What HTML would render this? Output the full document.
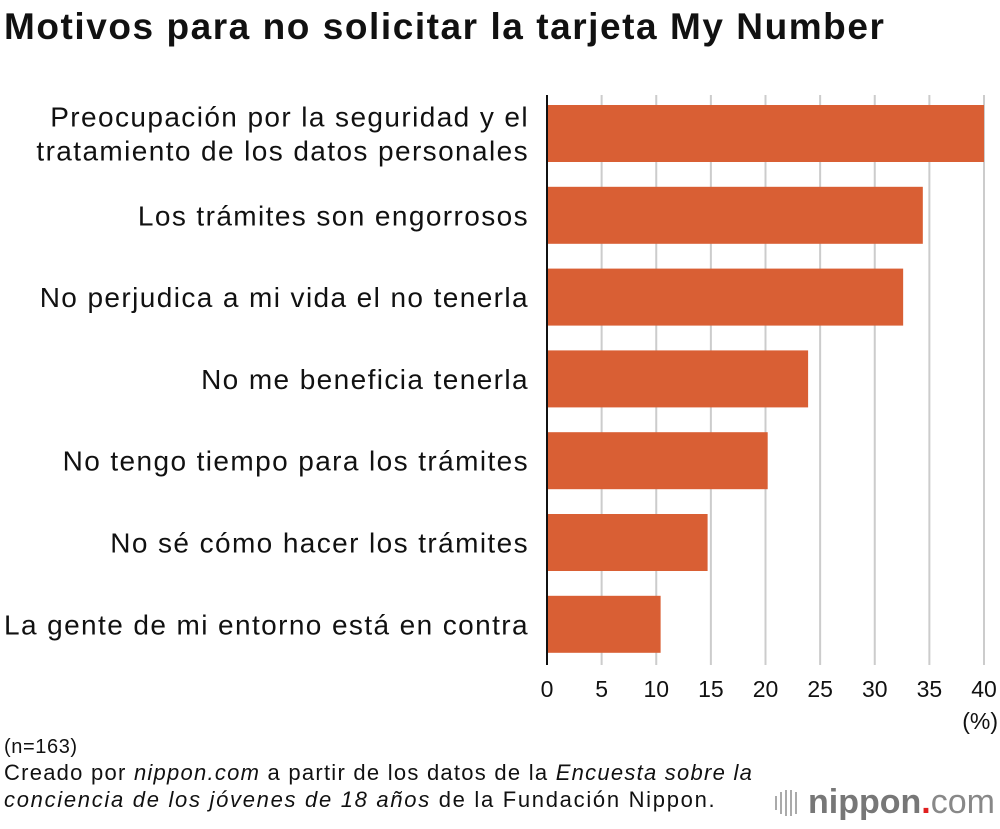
<!DOCTYPE html>
<html><head><meta charset="utf-8"><style>
body{margin:0;background:#fff;width:1000px;height:824px;overflow:hidden;font-family:"Liberation Sans",sans-serif;}
</style></head><body>
<svg width="1000" height="824" id="svg" font-family="Liberation Sans, sans-serif">
<text x="4" y="39" font-size="37" letter-spacing="1.55" font-weight="bold" fill="#111">Motivos para no solicitar la tarjeta My Number</text>
<g id="grid"></g><g id="bars"></g><g id="labels"></g><g id="ticks"></g>
<line x1="547" y1="95" x2="547" y2="665" stroke="#111" stroke-width="2"/>
<text x="998" y="729" font-size="23" text-anchor="end" fill="#111">(%)</text>
<text x="4" y="753" font-size="20" letter-spacing="0.6" fill="#111">(n=163)</text>
<text x="4" y="780" font-size="22" letter-spacing="1.25" fill="#111">Creado por <tspan font-style="italic">nippon.com</tspan> a partir de los datos de la <tspan font-style="italic">Encuesta sobre la</tspan></text>
<text x="4" y="807" font-size="22" letter-spacing="1.7" fill="#111"><tspan font-style="italic">conciencia de los jóvenes de 18 años</tspan> de la Fundación Nippon.</text>
<g>
<g stroke="#aaa" stroke-width="2"><line x1="776" y1="796" x2="776" y2="810"/><line x1="781" y1="792" x2="781" y2="814"/><line x1="786" y1="790" x2="786" y2="816"/><line x1="791" y1="790" x2="791" y2="816"/><line x1="796" y1="792" x2="796" y2="814"/></g>
<text x="808" y="813" font-size="34" fill="#777" font-weight="bold">nippon<tspan fill="#e02020">.</tspan><tspan font-weight="normal" fill="#888">com</tspan></text>
</g>
</svg>
<script>
const categories=[["Preocupación por la seguridad y el","tratamiento de los datos personales"],["Los trámites son engorrosos"],["No perjudica a mi vida el no tenerla"],["No me beneficia tenerla"],["No tengo tiempo para los trámites"],["No sé cómo hacer los trámites"],["La gente de mi entorno está en contra"]];
const values=[40.0,34.4,32.6,23.9,20.2,14.7,10.4];
const tickValues=[0,5,10,15,20,25,30,35,40];
const NS="http://www.w3.org/2000/svg";
const x0=547,x1=984,xmax=40;
function xs(v){return x0+(x1-x0)*v/xmax;}
const rowTop=96,rowStep=81.8,barH=57,barOff=9;
function yb(i){return rowTop+i*rowStep+barOff;}
function mk(t,a,p){const e=document.createElementNS(NS,t);for(const k in a)e.setAttribute(k,a[k]);document.getElementById(p).appendChild(e);return e;}
tickValues.forEach(v=>{
 if(v>0){const g=mk('line',{x1:xs(v),x2:xs(v),y1:95,y2:665,stroke:'#ccc','stroke-width':2},'grid');
 
 }
 const t=mk('text',{x:xs(v),y:697,'font-size':23,'text-anchor':'middle',fill:'#111'},'ticks');
 t.textContent=v;
 
 
});
values.forEach((v,i)=>{
 const r=mk('rect',{x:x0,y:yb(i),width:xs(v)-x0,height:barH,fill:'#d95f34'},'bars');
 
 
 const lines=categories[i];const cy=yb(i)+barH/2;
 lines.forEach((s,j)=>{
  const t=mk('text',{x:529,y:cy+10+(j-(lines.length-1)/2)*34,'font-size':28,'letter-spacing':1.4,'text-anchor':'end',fill:'#111'},'labels');
  t.textContent=s;
  
  
 });
});
</script>
</body></html>
